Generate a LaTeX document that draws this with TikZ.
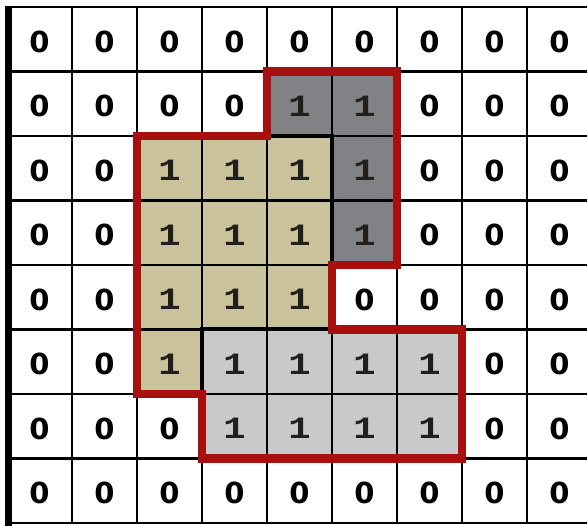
\documentclass[tikz,border=0pt]{standalone}
\usepackage{fontspec}
\newfontfamily\zerofont{DejaVu Sans}
\newfontfamily\onefont{Liberation Mono}
\definecolor{beige}{RGB}{201,194,154}
\definecolor{darkg}{RGB}{128,130,133}
\definecolor{lightg}{RGB}{201,201,201}
\definecolor{outline}{RGB}{168,16,16}
\definecolor{onecol}{RGB}{34,30,28}
\tikzset{
  gridline/.style={line width=2.2pt, black},
  regionline/.style={line width=4pt, black},
  cell0/.style={inner sep=0pt, font=\zerofont\bfseries\fontsize{29}{29}\selectfont, text=black},
  cell1/.style={inner sep=0pt, font=\onefont\bfseries\fontsize{31}{31}\selectfont, text=onecol, xscale=1.2},
  redline/.style={line width=8.5pt, outline, line join=miter}
}
\begin{document}
\begin{tikzpicture}[x=1pt,y=-1pt]
\useasboundingbox (0,0) rectangle (587,526);
\fill[white] (0,0) rectangle (587,526);
% region fills
\fill[beige] (137,136) rectangle (332,329.5);
\fill[beige] (137,329.5) rectangle (202,394);
\fill[darkg] (267,71.5) rectangle (397,136);
\fill[darkg] (332,136) rectangle (397,265);
\fill[lightg] (202,329.5) rectangle (462,458.5);
% grid
\foreach \i in {1,...,8} \draw[gridline] ({7+65*\i},7) -- ({7+65*\i},523);
\foreach \j in {0,...,8} \draw[gridline] (7,{7+64.5*\j}) -- (587,{7+64.5*\j});
\draw[line width=6.5pt, black] (8.5,5.8) -- (8.5,526);
% region boundaries
\draw[regionline] (267,136) -- (332,136) -- (332,265);
\draw[regionline] (202,394) -- (202,329.5) -- (332,329.5);
% numbers
\foreach \r/\vals in {0/{0,0,0,0,0,0,0,0,0},
                      1/{0,0,0,0,1,1,0,0,0},
                      2/{0,0,1,1,1,1,0,0,0},
                      3/{0,0,1,1,1,1,0,0,0},
                      4/{0,0,1,1,1,0,0,0,0},
                      5/{0,0,1,1,1,1,1,0,0},
                      6/{0,0,0,1,1,1,1,0,0},
                      7/{0,0,0,0,0,0,0,0,0}} {
  \foreach \v [count=\c from 0] in \vals {
    \node[cell\v] (n-\r-\c) at ({39.5+65*\c},{41.5+64.5*\r}) {\v};
  }
}
% red outline
\draw[redline] (267,71.5) -- (397,71.5) -- (397,265) -- (332,265) -- (332,329.5)
  -- (462,329.5) -- (462,458.5) -- (202,458.5) -- (202,394) -- (137,394)
  -- (137,136) -- (267,136) -- cycle;
\end{tikzpicture}
\end{document}
